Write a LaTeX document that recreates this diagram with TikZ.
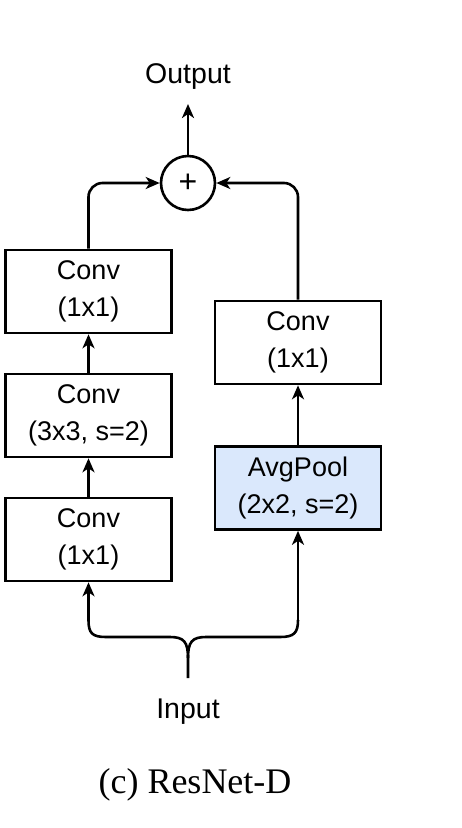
\documentclass[tikz,border=0pt]{standalone}
\usepackage{fontspec}
\setmainfont{Liberation Sans}
\newfontfamily\capfont{Liberation Serif}
\usetikzlibrary{arrows.meta}
\definecolor{poolblue}{HTML}{DAE8FC}
\begin{document}
\begin{tikzpicture}[x=1pt,y=-1pt,
  blk/.style={draw=black,line width=2.6pt,minimum width=166pt,minimum height=83pt,align=center,inner sep=0pt,
    font=\fontsize{27}{37}\selectfont},
  arr/.style={line width=2.6pt,-{Stealth[length=14pt,width=12pt,inset=4pt]}},
  ln/.style={line width=2.6pt},
  lbl/.style={font=\fontsize{28.5}{30}\selectfont,inner sep=0pt}]
\useasboundingbox (0,0) rectangle (462,828);
\node[blk] (c1) at (88.5,291.5) {Conv\\(1x1)};
\node[blk] (c2) at (88.5,415.5) {Conv\\(3x3, s=2)};
\node[blk] (c3) at (88.5,539.5) {Conv\\(1x1)};
\node[blk] (rc) at (298,342.5) {Conv\\(1x1)};
\node[blk,fill=poolblue] (ap) at (298,488) {AvgPool\\(2x2, s=2)};
\node[draw=black,line width=2.6pt,circle,minimum size=54pt,inner sep=0pt,font=\fontsize{32}{32}\selectfont] (add) at (188,183) {+};
\node[lbl] (out) at (188,77) {Output};
\node[lbl] (in) at (188,712) {Input};
\node[font=\capfont\fontsize{36}{36}\selectfont,inner sep=0pt] (cap) at (195,785) {(c) ResNet-D};
\coordinate (stem) at (188,678);
\coordinate (top) at (188,104);
% top
\draw[arr] (add.north) -- (top);
\draw[arr,rounded corners=14pt] (c1.north) -- (c1.north |- add) -- (add.west);
\draw[arr,rounded corners=14pt] (rc.north) -- (rc.north |- add) -- (add.east);
% chains
\draw[arr] (c3.north) -- (c2.south);
\draw[arr] (c2.north) -- (c1.south);
\draw[arr] (ap.north) -- (rc.south);
% input split
\coordinate (fork) at (188,658);
\coordinate (lb) at (88.5,620);
\coordinate (rb) at (298,620);
\draw[ln] (stem) -- (fork) .. controls (188,642) and (184,637) .. (170,637) -- (106,637) .. controls (92,637) and (88.5,633) .. (lb);
\draw[arr] (lb) -- (c3.south);
\draw[ln] (fork) .. controls (188,642) and (192,637) .. (206,637) -- (280,637) .. controls (294,637) and (298,633) .. (rb);
\draw[arr] (rb) -- (ap.south);
\end{tikzpicture}
\end{document}
